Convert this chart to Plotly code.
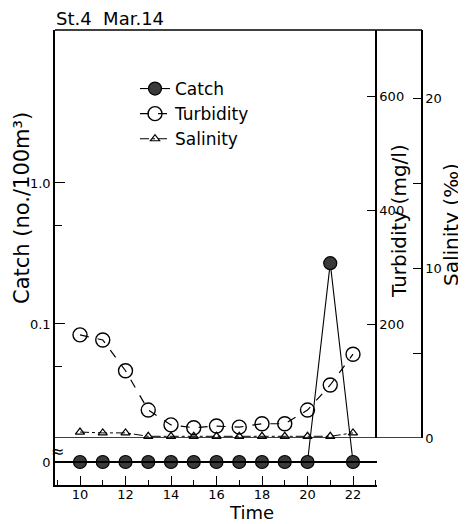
import plotly.graph_objects as go

# ---- data ----
hours = [10, 11, 12, 13, 14, 15, 16, 17, 18, 19, 20, 21, 22]
catch = [0, 0, 0, 0, 0, 0, 0, 0, 0, 0, 0, 0.27, 0]
turbidity = [181, 172, 118, 49, 23, 18, 21, 19, 25, 25, 49, 93, 147]
salinity = [0.35, 0.3, 0.3, 0.1, 0.1, 0.1, 0.1, 0.1, 0.1, 0.1, 0.1, 0.1, 0.3]

catch_ticks = [0.1, 1.0]
catch_ticktext = ["0.1", "1.0"]
turb_ticks = [200, 400, 600]
sal_ticks = [0, 10, 20]
x_ticks = [10, 12, 14, 16, 18, 20, 22]

# zero values of the catch are drawn on the broken-axis "0" row
ZERO_ROW = 0.0105
catch_plot = [c if c > 0 else ZERO_ROW for c in catch]

FONT = "DejaVu Sans"
OFF = 8  # page body margin of the rendered html
W, H = 466 - OFF, 524 - OFF
L, R, T, B = 55 - OFF, 44, 30 - OFF, 39
PW, PH = 367, 455
XDOM = (377 - 55) / PW
UPPER = (485 - 438) / PH


def px_x(px):
    return (px - 55) / PW


def px_y(py):
    return (485 - py) / PH


fig = go.Figure()

fig.add_trace(go.Scatter(
    x=hours, y=catch_plot, name="Catch", xaxis="x", yaxis="y",
    mode="lines+markers",
    line=dict(color="black", width=1.1),
    marker=dict(symbol="circle", size=13, color="#3a3a3a", line=dict(color="black", width=1.2)),
    cliponaxis=False,
))
fig.add_trace(go.Scatter(
    x=hours, y=turbidity, name="Turbidity", xaxis="x", yaxis="y2",
    mode="lines+markers",
    line=dict(color="black", width=1.2, dash="dash"),
    marker=dict(symbol="circle-open", size=14, color="black", line=dict(width=1.4)),
    cliponaxis=False,
))
fig.add_trace(go.Scatter(
    x=hours, y=salinity, name="Salinity", xaxis="x", yaxis="y3",
    mode="lines+markers",
    line=dict(color="black", width=1, dash="dashdot"),
    marker=dict(symbol="triangle-up-open", size=8, color="black", line=dict(width=1.2)),
    cliponaxis=False,
))

shapes = [
    dict(type="line", xref="paper", yref="paper", x0=0, x1=1, y0=1, y1=1,
         line=dict(color="black", width=1.5)),
    dict(type="line", xref="paper", yref="y2", x0=0, x1=1, y0=0, y1=0,
         line=dict(color="black", width=1.5)),
    dict(type="line", xref="paper", yref="y", x0=0, x1=XDOM, y0=ZERO_ROW, y1=ZERO_ROW,
         line=dict(color="black", width=1.8)),
]


def ann(text, x, y, size, angle=0, xa="center", ya="middle"):
    return dict(text=text, xref="paper", yref="paper", x=x, y=y, xanchor=xa, yanchor=ya,
                textangle=angle, showarrow=False, borderpad=0,
                font=dict(family=FONT, size=size, color="black"))


annotations = [
    ann("St.4  Mar.14", 0, 1, 18, xa="left", ya="bottom"),
    ann("Catch (no./100m³)", px_x(22), px_y(208), 21, -90),
    ann("Turbidity (mg/l)", px_x(399), px_y(221), 20, -90),
    ann("Salinity (‰)", px_x(451), px_y(225), 20, -90),
    ann("Time", px_x(251), px_y(524), 18, ya="bottom"),
    ann("≈", px_x(57), px_y(451), 16),
]

fig.update_layout(
    width=W, height=H,
    margin=dict(l=L, r=R, t=T, b=B),
    paper_bgcolor="white", plot_bgcolor="rgba(0,0,0,0)",
    font=dict(family=FONT, color="black"),
    showlegend=True,
    legend=dict(x=px_x(135), y=px_y(71), xanchor="left", yanchor="top",
                bgcolor="rgba(0,0,0,0)", font=dict(family=FONT, size=17, color="black"),
                tracegroupgap=0, itemwidth=30, traceorder="normal"),
    xaxis=dict(domain=[0, XDOM], range=[8.901, 23.055], anchor="y",
               showline=True, linecolor="black", linewidth=1.5,
               showgrid=False, zeroline=False, automargin=False,
               tickvals=x_ticks, ticks="inside", ticklen=9, tickwidth=1.2, tickcolor="black",
               ticklabelstandoff=-3,
               minor=dict(dtick=1, tick0=10, ticks="inside", ticklen=5, tickcolor="black", showgrid=False),
               tickfont=dict(family=FONT, size=13)),
    yaxis=dict(type="log", domain=[0, 1], range=[-2.142, 1.085], anchor="x",
               showline=True, linecolor="black", linewidth=1.5,
               showgrid=False, zeroline=False, automargin=False,
               tickvals=[ZERO_ROW] + catch_ticks, ticktext=["0"] + catch_ticktext,
               ticks="inside", ticklen=10, tickwidth=1.2, tickcolor="black",
               minor=dict(tickvals=[0.05, 0.5], ticks="inside", ticklen=7, tickcolor="black", showgrid=False),
               tickfont=dict(family=FONT, size=13)),
    yaxis2=dict(domain=[UPPER, 1], range=[0, 715.8], anchor="free", position=px_x(376),
                side="right", showline=True, linecolor="black", linewidth=1.5,
                showgrid=False, zeroline=False, automargin=False,
                tickvals=turb_ticks, ticks="inside", ticklen=8, tickwidth=1.2, tickcolor="black",
                tickfont=dict(family=FONT, size=13)),
    yaxis3=dict(domain=[UPPER, 1], range=[0, 24.0], anchor="free", position=1.0,
                side="right", showline=True, linecolor="black", linewidth=1.5,
                showgrid=False, zeroline=False, automargin=False,
                tickvals=sal_ticks, ticks="inside", ticklen=8, tickwidth=1.2, tickcolor="black",
                minor=dict(tickvals=[5, 15], ticks="inside", ticklen=8, tickcolor="black", showgrid=False),
                tickfont=dict(family=FONT, size=13)),
    shapes=shapes,
    annotations=annotations,
)

fig.write_html("out.html")
